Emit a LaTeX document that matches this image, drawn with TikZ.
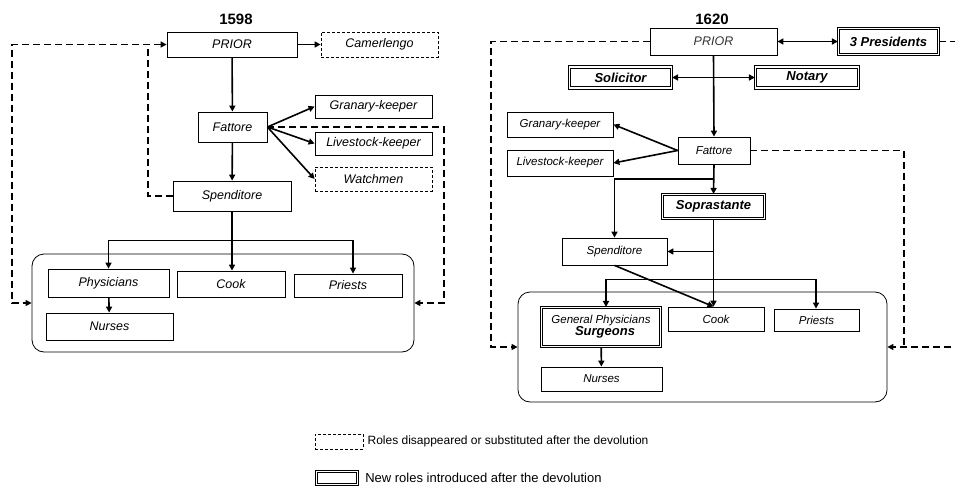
\documentclass[tikz,border=0pt]{standalone}
\usepackage{fontspec}
\setmainfont{Liberation Sans}
\usetikzlibrary{arrows.meta,positioning}

\tikzset{
  wh/.style 2 args={minimum width=#1pt, minimum height=#2pt},
  role/.style={draw, line width=0.8pt, inner sep=1pt, font=\itshape\fontsize{12.5}{14}\selectfont},
  small/.style={font=\itshape\fontsize{11.5}{13}\selectfont},
  gone/.style={role, dash pattern=on 3pt off 2pt},
  newrole/.style={draw, double, line width=1.1pt, double distance=1.4pt, inner sep=1pt,
    font=\bfseries\itshape\fontsize{13}{15}\selectfont},
  group/.style={draw, line width=0.8pt, rounded corners=12pt},
  link/.style={line width=1.6pt, -{Triangle[length=6pt,width=6pt]}},
  both/.style={line width=1.6pt, {Triangle[length=6pt,width=6pt]}-{Triangle[length=6pt,width=6pt]}},
  tee/.style={line width=0.9pt},
  dlink/.style={line width=1.8pt, dash pattern=on 7pt off 4pt},
  year/.style={font=\bfseries\fontsize{15}{17}\selectfont},
  legend/.style={inner sep=1pt, font=\fontsize{12}{14}\selectfont},
}

\begin{document}
\begin{tikzpicture}[x=1pt, y=-1pt]
  \useasboundingbox (0,0) rectangle (955,487);

  % 1598
  \node[group, wh={382}{98}] (groupA) at (223,303) {};
  \node[year] (yearA) at (236,19) {1598};
  \node[role, wh={130}{25}] (priorA) at (232,44.5) {PRIOR};
  \node[gone, wh={117}{25}] (camerA) at (379.5,44.5) {Camerlengo};
  \node[role, wh={69}{30}] (fattoreA) at (232.5,127) {Fattore};
  \node[role, wh={117}{23}] (granA) at (373.5,106.5) {Granary-keeper};
  \node[role, wh={117}{23}] (liveA) at (373.5,143.5) {Livestock-keeper};
  \node[gone, wh={117}{24}] (watchA) at (373.5,179) {Watchmen};
  \node[role, wh={118}{30}] (spendA) at (232,196) {Spenditore};
  \node[role, wh={121}{28}] (physA) at (108.5,283) {Physicians};
  \node[role, wh={108}{26}] (cookA) at (231,284) {Cook};
  \node[role, wh={108}{23}] (priestA) at (348,285.5) {Priests};
  \node[role, wh={127}{27}] (nursesA) at (109.5,326.5) {Nurses};

  \draw[link] (priorA) -- (camerA);
  \draw[link] (priorA) -- (fattoreA);
  \draw[link] (fattoreA) -- (spendA);
  \draw[link] (fattoreA.east) -- (granA.west);
  \draw[link] (fattoreA.east) -- (liveA.west);
  \draw[link] (fattoreA.east) -- (watchA.west);
  \draw[link] (spendA.south) -- (spendA.south |- cookA.north);
  \coordinate (teeA) at (353,240);
  \draw[tee] (physA.north |- teeA) -- (teeA);
  \draw[link] (physA.north |- teeA) -- (physA.north);
  \draw[link] (teeA) -- (teeA |- priestA.north);
  \draw[link] (physA) -- (nursesA);

  \coordinate (cornA) at (12,303);
  \coordinate (turnA) at (148,44.5);
  \coordinate (cornA2) at (444,303);
  \draw[dlink, {Triangle[length=6pt,width=6pt]}-{Triangle[length=6pt,width=6pt]}]
    (priorA.west) -| (cornA) -- (groupA.west);
  \draw[dlink] (spendA.west) -| (turnA);
  \draw[dlink, -{Triangle[length=6pt,width=6pt]}] (fattoreA.east) -| (cornA2) -- (groupA.east);

  % 1620
  \node[group, wh={369}{110}] (groupB) at (702.5,347) {};
  \node[year] (yearB) at (712,19) {1620};
  \node[role, text=black!80, wh={127}{27}] (priorB) at (713.5,41.5) {PRIOR};
  \node[newrole, wh={100}{26}] (presB) at (888.5,41.5) {3 Presidents};
  \node[newrole, wh={102}{21}] (solB) at (620.5,77.5) {Solicitor};
  \node[newrole, wh={103}{21}] (notB) at (807,77.5) {Notary};
  \node[role, small, wh={72}{27}] (fattoreB) at (714,150.5) {Fattore};
  \node[role, small, wh={106}{25}] (granB) at (560,124.5) {Granary-keeper};
  \node[role, small, wh={106}{26}] (liveB) at (560,163) {Livestock-keeper};
  \node[newrole, wh={102}{24}] (soprB) at (713.5,206.5) {Soprastante};
  \node[role, small, wh={105}{27}] (spendB) at (614.5,251.5) {Spenditore};
  \node[newrole, small, align=center, wh={119}{39}] (genB) at (601,327)
    {General Physicians\\[-1pt]\hspace*{8pt}{\bfseries\fontsize{13}{15}\selectfont Surgeons}};
  \node[role, small, wh={96}{24}] (cookB) at (716,319) {Cook};
  \node[role, small, wh={85}{22}] (priestB) at (816.5,320) {Priests};
  \node[role, small, wh={121}{24}] (nursesB) at (601.5,379) {Nurses};

  \draw[both] (priorB) -- (presB);
  \draw[both] (solB) -- (notB);
  \draw[link] (priorB.south) -- (fattoreB.north);
  \draw[link] (fattoreB.west) -- (granB.east);
  \draw[link] (fattoreB.west) -- (liveB.east);
  \draw[link] (fattoreB.south) -- (soprB.north);
  \coordinate (brB) at (714,179);
  \draw[link] (brB) -| (spendB.north);
  \draw[link] (soprB.south) -- (soprB.south |- cookB.north);
  \draw[link] (soprB.south |- spendB.east) -- (spendB.east);
  \draw[link] (spendB.south) -- (soprB.south |- cookB.north);
  \coordinate (teeBl) at (606,279);
  \coordinate (teeBr) at (816,279);
  \draw[tee] (teeBl) -- (teeBr);
  \draw[link] (teeBl) -- (teeBl |- genB.north);
  \draw[link] (teeBr) -- (teeBr |- priestB.north);
  \draw[link] (genB) -- (nursesB);

  \coordinate (cornB) at (491,347);
  \coordinate (offT) at (962,41.5);
  \coordinate (offB) at (962,347);
  \coordinate (joinB) at (904,347);
  \draw[dlink, -{Triangle[length=6pt,width=6pt]}] (priorB.west) -| (cornB) -- (groupB.west);
  \draw[dlink] (presB.east) -- (offT);
  \draw[dlink, -{Triangle[length=6pt,width=6pt]}] (offB) -- (groupB.east);
  \draw[dlink] (fattoreB.east) -| (joinB);

  % legend
  \node[gone, wh={48}{15}] (legGone) at (339,441.5) {};
  \node[legend, right=3pt of legGone] (legGoneTxt) {Roles disappeared or substituted after the devolution};
  \node[newrole, wh={41}{13}] (legNew) at (337,478) {};
  \node[legend, font=\fontsize{13}{15}\selectfont, right=6pt of legNew] (legNewTxt) {New roles introduced after the devolution};
\end{tikzpicture}
\end{document}
